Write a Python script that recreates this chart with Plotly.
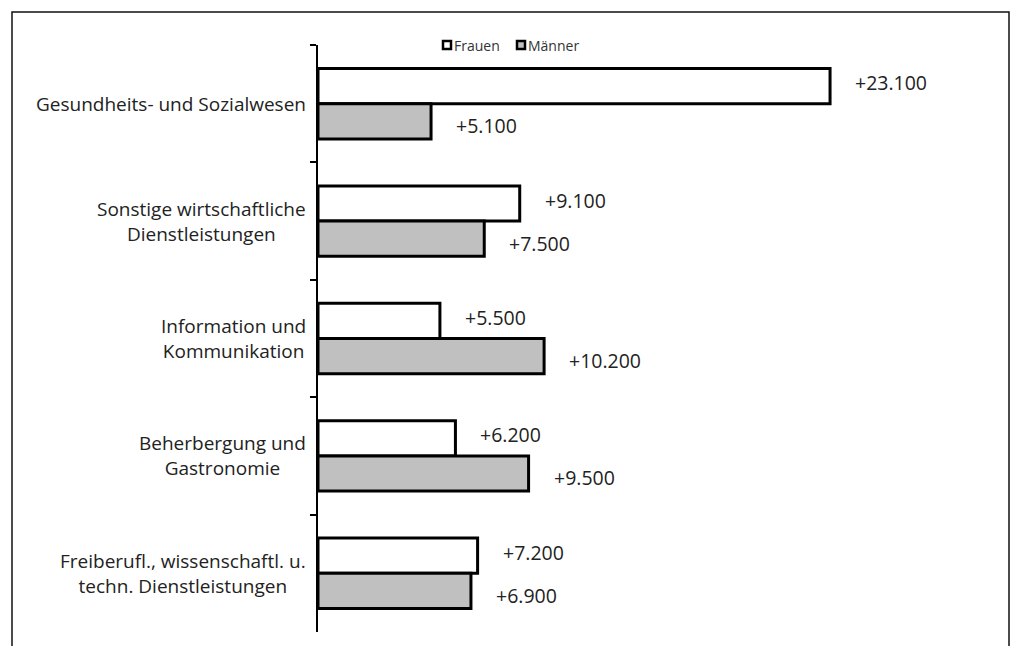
import plotly.graph_objects as go

# Beschäftigungszuwachs nach Branchen und Geschlecht
categories = [
    "Gesundheits- und Sozialwesen",
    "Sonstige wirtschaftliche<br>Dienstleistungen",
    "Information und<br>Kommunikation",
    "Beherbergung und<br>Gastronomie",
    "Freiberufl., wissenschaftl. u.<br>techn. Dienstleistungen",
]
frauen = [23100, 9100, 5500, 6200, 7200]
maenner = [5100, 7500, 10200, 9500, 6900]
series_names = ["Frauen", "Männer"]

W, H = 1011, 646
ML, MR, MT, MB = 318, 28, 45, 14
PW = W - ML - MR
PH = H - MT - MB
FONT = "Open Sans"


def px_x(p):
    return (p - ML) / PW


def px_y(p):
    return 1 - (p - MT) / PH


def fmt(v):
    return "+" + f"{v:,}".replace(",", ".")


fig = go.Figure()
fig.add_trace(go.Bar(
    name=series_names[0], y=categories, x=frauen, orientation="h",
    marker=dict(color="white", line=dict(color="black", width=3)),
))
fig.add_trace(go.Bar(
    name=series_names[1], y=categories, x=maenner, orientation="h",
    marker=dict(color="#c0c0c0", line=dict(color="black", width=3)),
))

annotations = []
# value labels next to the bar ends
for cat, v in zip(categories, frauen):
    annotations.append(dict(
        x=v, y=cat, xref="x", yref="y", text=fmt(v), showarrow=False,
        xanchor="left", xshift=23, yshift=21,
        font=dict(family=FONT, size=19.5, color="#222"),
    ))
for cat, v in zip(categories, maenner):
    annotations.append(dict(
        x=v, y=cat, xref="x", yref="y", text=fmt(v), showarrow=False,
        xanchor="left", xshift=23, yshift=-22,
        font=dict(family=FONT, size=19.5, color="#222"),
    ))
# category labels, centred lines, right-anchored at the axis
for cat in categories:
    annotations.append(dict(
        x=0, y=cat, xref="paper", yref="y", text=cat, showarrow=False,
        xanchor="right", align="center", xshift=-10,
        font=dict(family=FONT, size=19, color="#222"),
    ))

# compact legend
shapes = []
legend_pos = [443, 517]
fills = ["white", "#c0c0c0"]
for name, lx, fc in zip(series_names, legend_pos, fills):
    shapes.append(dict(
        type="rect", xref="paper", yref="paper",
        x0=px_x(lx), x1=px_x(lx + 8), y0=px_y(49), y1=px_y(41),
        fillcolor=fc, line=dict(color="black", width=2.5),
    ))
    annotations.append(dict(
        x=px_x(lx + 9), y=px_y(45), xref="paper", yref="paper",
        text=name, showarrow=False, xanchor="left", yanchor="middle",
        font=dict(family=FONT, size=14, color="#333"),
    ))

# outer frame
shapes.append(dict(
    type="rect", xref="paper", yref="paper",
    x0=px_x(12), x1=px_x(1009), y0=px_y(670), y1=px_y(12),
    line=dict(color="#111", width=1.5), fillcolor="rgba(0,0,0,0)", layer="below",
))

fig.update_layout(
    width=W, height=H,
    margin=dict(l=ML, r=MR, t=MT, b=MB),
    paper_bgcolor="white", plot_bgcolor="white",
    barmode="group", bargap=0.4, bargroupgap=0,
    showlegend=False,
    annotations=annotations, shapes=shapes,
    xaxis=dict(range=[0, 30000], visible=False),
    yaxis=dict(
        type="category", autorange="reversed", showticklabels=False,
        showline=True, linecolor="black", linewidth=1.5,
        ticks="outside", tickson="boundaries", ticklen=6, tickcolor="black",
        tickwidth=1.5, showgrid=False, zeroline=False,
    ),
)

fig.write_html("out.html")
